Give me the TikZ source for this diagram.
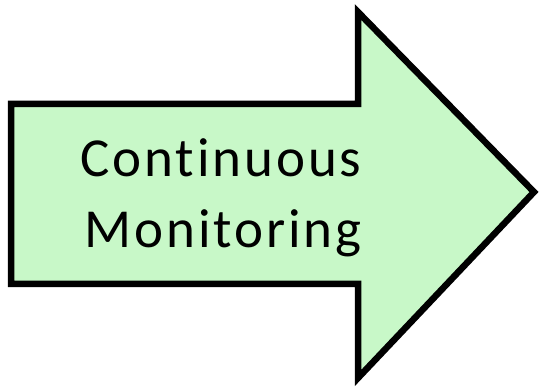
\documentclass[tikz,border=0pt]{standalone}
\usepackage{fontspec}
\setmainfont[Ligatures=NoCommon,LetterSpace=5.3]{Carlito}
\definecolor{arrowfill}{RGB}{200,248,200}
\tikzset{
  bigarrow/.style={draw=black, line width=6.5pt, fill=arrowfill, line join=miter},
  lbl/.style={font=\fontsize{55}{71}\selectfont, text=black, anchor=base, inner sep=0pt}
}
\begin{document}
\begin{tikzpicture}[x=1pt,y=1pt]
\useasboundingbox (0,0) rectangle (541,388);
\draw[bigarrow] (11,284) -- (358,284) -- (358,376) -- (534,196) -- (358,10) -- (358,104) -- (11,104) -- cycle;
\node[lbl] (l1) at (221,211) {Continuous};
\node[lbl] (l2) at (223,140) {Monitoring};
\end{tikzpicture}
\end{document}
